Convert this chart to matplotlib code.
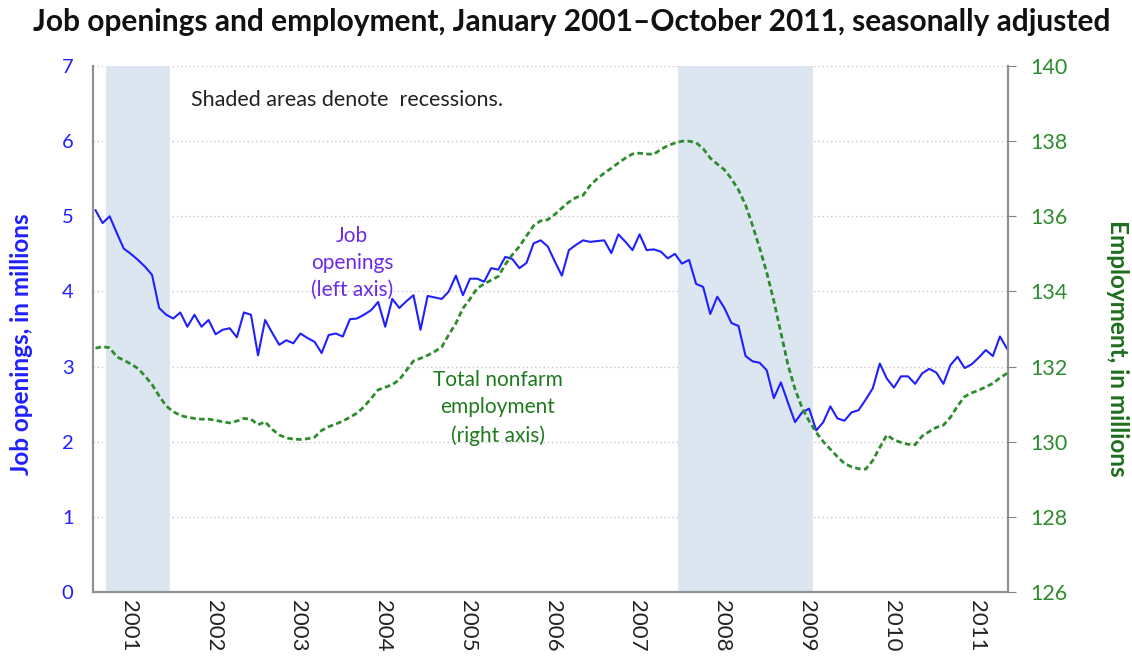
import matplotlib
matplotlib.use('Agg')
import matplotlib.pyplot as plt
import numpy as np

plt.rcParams['font.family'] = ['Lato', 'DejaVu Sans']

# monthly data, Jan 2001 .. Oct 2011
job_openings = [
    5.08, 4.91, 5.00, 4.78, 4.57, 4.50, 4.42, 4.33, 4.22, 3.78, 3.69, 3.64,
    3.72, 3.53, 3.69, 3.53, 3.62, 3.43, 3.49, 3.51, 3.39, 3.72, 3.69, 3.15,
    3.62, 3.45, 3.29, 3.35, 3.31, 3.44, 3.38, 3.33, 3.18, 3.42, 3.44, 3.40,
    3.63, 3.64, 3.69, 3.75, 3.86, 3.53, 3.90, 3.78, 3.87, 3.95, 3.49, 3.94,
    3.92, 3.90, 4.00, 4.21, 3.95, 4.17, 4.17, 4.13, 4.31, 4.29, 4.46, 4.43,
    4.31, 4.38, 4.64, 4.68, 4.60, 4.40, 4.21, 4.55, 4.62, 4.68, 4.66, 4.67,
    4.68, 4.51, 4.76, 4.66, 4.55, 4.76, 4.55, 4.56, 4.53, 4.44, 4.50, 4.37,
    4.42, 4.10, 4.06, 3.70, 3.93, 3.78, 3.58, 3.54, 3.14, 3.07, 3.05, 2.95,
    2.58, 2.79, 2.52, 2.26, 2.39, 2.44, 2.15, 2.26, 2.47, 2.31, 2.28, 2.39,
    2.42, 2.56, 2.71, 3.04, 2.84, 2.72, 2.87, 2.87, 2.77, 2.91, 2.97, 2.92,
    2.77, 3.02, 3.13, 2.98, 3.03, 3.12, 3.22, 3.14, 3.40, 3.24,
]
employment = [
    132.49, 132.53, 132.50, 132.26, 132.17, 132.07, 131.95, 131.75, 131.52, 131.22, 130.95, 130.80,
    130.70, 130.65, 130.62, 130.60, 130.60, 130.57, 130.53, 130.50, 130.55, 130.62, 130.60, 130.45,
    130.53, 130.33, 130.18, 130.10, 130.07, 130.06, 130.08, 130.12, 130.30, 130.40, 130.47, 130.55,
    130.65, 130.76, 130.93, 131.15, 131.38, 131.45, 131.52, 131.65, 131.90, 132.15, 132.22, 132.30,
    132.40, 132.52, 132.85, 133.15, 133.55, 133.80, 134.08, 134.20, 134.30, 134.40, 134.72, 134.98,
    135.20, 135.48, 135.75, 135.88, 135.91, 136.05, 136.22, 136.38, 136.50, 136.56, 136.82, 137.00,
    137.15, 137.28, 137.42, 137.55, 137.66, 137.68, 137.66, 137.65, 137.78, 137.88, 137.95, 138.00,
    138.00, 137.96, 137.80, 137.55, 137.39, 137.24, 137.00, 136.70, 136.30, 135.75, 135.15, 134.50,
    133.75, 132.90, 132.05, 131.40, 130.90, 130.55, 130.25, 130.00, 129.80, 129.60, 129.42, 129.33,
    129.28, 129.27, 129.50, 129.85, 130.18, 130.05, 129.98, 129.93, 129.92, 130.15, 130.27, 130.38,
    130.44, 130.65, 130.95, 131.20, 131.30, 131.37, 131.46, 131.55, 131.70, 131.82,
]
years = ['2001', '2002', '2003', '2004', '2005', '2006', '2007', '2008', '2009', '2010', '2011']
# recessions as (first month index, last month index)
recessions = [(2, 10), (83, 101)]

months = np.arange(len(job_openings))

fig = plt.figure(figsize=(11.32, 6.59), dpi=100)
ax = fig.add_axes([0.0822, 0.1017, 0.8083, 0.7981])
ax2 = ax.twinx()

blue = '#2020ff'
green = '#2e8b2e'

for start, end in recessions:
    ax.axvspan(start - 0.5, end + 0.5, color='#dce6f1', lw=0, zorder=1)

ax.plot(months, job_openings, color=blue, lw=1.5, zorder=3)
ax2.plot(months, employment, color=green, lw=2.0, ls=(0, (2, 1.2)), zorder=3)

ax.set_xlim(-0.35, 129.15)
ax.set_ylim(0, 7)
ax2.set_ylim(126, 140)

ax.set_yticks(range(0, 8))
ax2.set_yticks(range(126, 141, 2))
ax.set_xticks([12 * k + 4.7 for k in range(len(years))])
ax.set_xticklabels(years, rotation=-90, fontsize=16, color='#222222')

ax.set_axisbelow(True)
ax.grid(axis='y', color='#c8c8c8', ls=(0, (1, 2)), lw=1)
ax.grid(axis='x', visible=False)

ax.tick_params(axis='y', length=0, colors=blue, labelsize=14.5, pad=14)
ax.tick_params(axis='x', length=0, pad=6)
ax2.tick_params(axis='y', length=6, color='#808080', labelcolor=green, labelsize=15.5, pad=10)

for a in (ax, ax2):
    for side in ('left', 'right', 'bottom'):
        a.spines[side].set_color('#909090')
        a.spines[side].set_linewidth(1.5)
    a.spines['top'].set_visible(False)

fig.text(22 / 1132, 1 - 344 / 659, 'Job openings, in millions', color=blue, fontsize=17.5,
         fontweight='bold', rotation=90, ha='center', va='center')
fig.text(1118 / 1132, 1 - 348 / 659, 'Employment, in millions', color='#1e6e1e', fontsize=17.5,
         fontweight='bold', rotation=-90, ha='center', va='center')

fig.text(0.505, 0.966, 'Job openings and employment, January 2001\u2013October 2011, seasonally adjusted',
         ha='center', va='center', fontsize=21.5, fontweight='bold', color='#111111')

ax.text(13.5, 6.55, 'Shaded areas denote  recessions.', fontsize=15.5, color='#222222',
        ha='left', va='center')
ax.text(36.3, 4.38, 'Job\nopenings\n(left axis)', fontsize=15, color='#6a2ae8',
        ha='center', va='center', linespacing=1.45)
ax.text(56.9, 2.45, 'Total nonfarm\nemployment\n(right axis)', fontsize=15, color='#1f7a1f',
        ha='center', va='center', linespacing=1.45)

fig.savefig('out.png', dpi=100)
